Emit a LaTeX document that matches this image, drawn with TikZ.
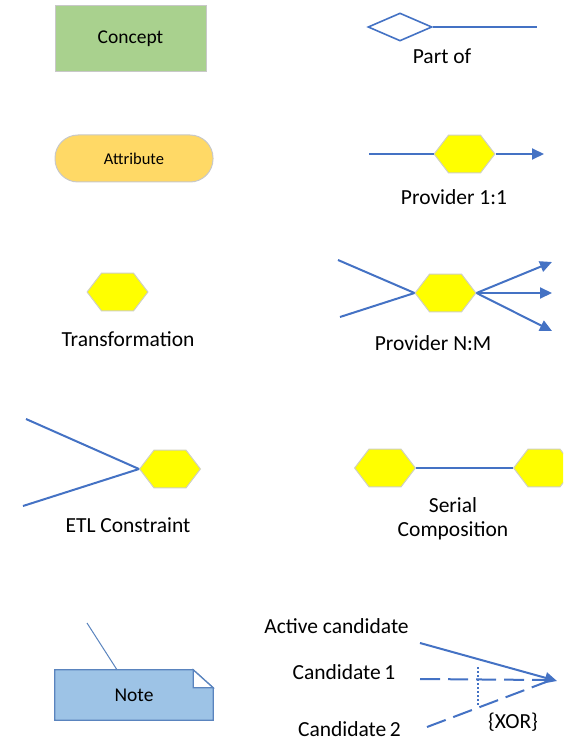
\documentclass[tikz,border=0pt]{standalone}
\usepackage{fontspec}
\setmainfont{Carlito}
\usetikzlibrary{arrows.meta,shapes.geometric,backgrounds}

\definecolor{linkblue}{HTML}{4472C4}
\definecolor{conceptgreen}{HTML}{A9D18E}
\definecolor{attryellow}{HTML}{FFD966}
\definecolor{hexyellow}{HTML}{FFFF00}
\definecolor{hexedge}{HTML}{D0D0C0}
\definecolor{softedge}{HTML}{C8C8C8}
\definecolor{notefill}{HTML}{9DC3E6}
\definecolor{noteedge}{HTML}{5A84BE}

\tikzset{
  concept/.style={draw=softedge, line width=1pt, fill=conceptgreen,
    minimum width=151pt, minimum height=66pt, inner sep=0pt,
    font=\fontsize{19.5}{22}\selectfont},
  attribute/.style={draw=softedge, line width=1pt, fill=attryellow,
    rounded corners=23pt, minimum width=158pt, minimum height=47pt,
    inner sep=0pt, font=\fontsize{16.5}{19}\selectfont},
  hexa/.style={minimum width=62pt, minimum height=39pt, inner sep=0pt,
    outer sep=0pt, path picture={
      \filldraw[fill=hexyellow, draw=hexedge, line width=1pt]
        ([xshift=0.6pt]path picture bounding box.west)
        -- ([xshift=15pt,yshift=-0.6pt]path picture bounding box.north west)
        -- ([xshift=-15pt,yshift=-0.6pt]path picture bounding box.north east)
        -- ([xshift=-0.6pt]path picture bounding box.east)
        -- ([xshift=-15pt,yshift=0.6pt]path picture bounding box.south east)
        -- ([xshift=15pt,yshift=0.6pt]path picture bounding box.south west)
        -- cycle;}},
  label/.style={font=\fontsize{21.5}{25}\selectfont, inner sep=0pt},
  twoline/.style={label, align=center},
  partdiamond/.style={diamond, draw=linkblue, line width=1.6pt, fill=white,
    minimum width=64pt, minimum height=28pt, inner sep=0pt, aspect=2.3},
  flow/.style={draw=linkblue, line width=2pt},
  flowarrow/.style={flow, -{Triangle[length=12pt,width=11pt]}},
  candash/.style={flow, dash pattern=on 20pt off 8pt},
  xordots/.style={draw=linkblue, line width=1.2pt, dash pattern=on 1.5pt off 2.5pt},
  notebody/.style={minimum width=158pt, minimum height=50pt, inner sep=0pt,
    font=\fontsize{19.5}{22}\selectfont},
  notepaper/.style={fill=notefill, draw=noteedge, line width=1.3pt},
  noteline/.style={draw=noteedge, line width=1pt},
}

\begin{document}
\begin{tikzpicture}[x=1pt, y=-1pt]
\useasboundingbox (0,0) rectangle (563,743);
\clip (0,0) rectangle (563,743);

% Concept and attribute
\node[concept] (concept) at (130.5,38.5) {Concept};
\node[attribute] (attr) at (134,158.5) {Attribute};

% Part of
\node[partdiamond] (pd) at (400,27) {};
\coordinate (pdend) at (537,27);
\draw[flow] (pd.east) -- (pdend);
\node[label] (lpart) at (442,56) {Part of};

% Provider 1:1
\node[hexa] (h11) at (464.5,154) {};
\coordinate (p11in) at (369,154);
\coordinate (p11out) at (544,154);
\draw[flow] (p11in) -- (h11.west);
\draw[flowarrow] (h11.east) -- (p11out);
\node[label] (lp11) at (454,197) {Provider 1:1};

% Transformation
\node[hexa] (htr) at (117.5,292) {};
\node[label] (ltr) at (128,339) {Transformation};

% Provider N:M
\node[hexa] (hnm) at (445.5,293) {};
\coordinate (nmin1) at (338,260);
\coordinate (nmin2) at (340,317);
\coordinate (nmout1) at (552,262);
\coordinate (nmout2) at (552,293);
\coordinate (nmout3) at (552,331);
\draw[flow] (nmin1) -- (hnm.west);
\draw[flow] (nmin2) -- (hnm.west);
\draw[flowarrow] (hnm.east) -- (nmout1);
\draw[flowarrow] (hnm.east) -- (nmout2);
\draw[flowarrow] (hnm.east) -- (nmout3);
\node[label] (lnm) at (433,343) {Provider N:M};

% ETL constraint
\node[hexa] (hetl) at (170,469) {};
\coordinate (etlin1) at (26,419);
\coordinate (etlin2) at (23,506);
\draw[flow] (etlin1) -- (hetl.west);
\draw[flow] (etlin2) -- (hetl.west);
\node[label] (letl) at (128,525) {ETL Constraint};

% Serial composition
\node[hexa] (hs1) at (385,468) {};
\node[hexa] (hs2) at (544,468) {};
\draw[flow] (hs1.east) -- (hs2.west);
\node[twoline] (lser) at (453,519) {Serial\\[-1pt]Composition};

% Note
\node[notebody] (note) at (134,695) {Note};
\begin{scope}[on background layer]
  \filldraw[notepaper] (note.north west) -- ([xshift=-20pt]note.north east)
    -- ([yshift=-18pt]note.north east) -- (note.south east)
    -- (note.south west) -- cycle;
  \filldraw[notepaper, fill=white] ([xshift=-20pt]note.north east)
    -- ([xshift=-20pt,yshift=-18pt]note.north east)
    -- ([yshift=-18pt]note.north east) -- cycle;
\end{scope}
\coordinate (notetail) at (87,623);
\draw[noteline] (notetail) -- ([xshift=-17pt]note.north);

% Candidates
\node[label] (lact) at (336.5,626) {Active candidate};
\node[label] (lc1) at (344,672) {Candidate\,1};
\node[label] (lc2) at (349.5,729) {Candidate\,2};
\node[label] (lxor) at (513,722) {\{XOR\}};
\coordinate (tip) at (557,681);
\coordinate (actstart) at (420,643);
\coordinate (c1start) at (420,679);
\coordinate (c1end) at (546,680);
\coordinate (c2start) at (427,727);
\coordinate (c2end) at (546,682);
\coordinate (xtop) at (478,667);
\coordinate (xbot) at (478,706);
\draw[candash] (c1start) -- (c1end);
\draw[candash] (c2start) -- (c2end);
\draw[xordots] (xtop) -- (xbot);
\draw[flowarrow] (actstart) -- (tip);
\end{tikzpicture}
\end{document}
